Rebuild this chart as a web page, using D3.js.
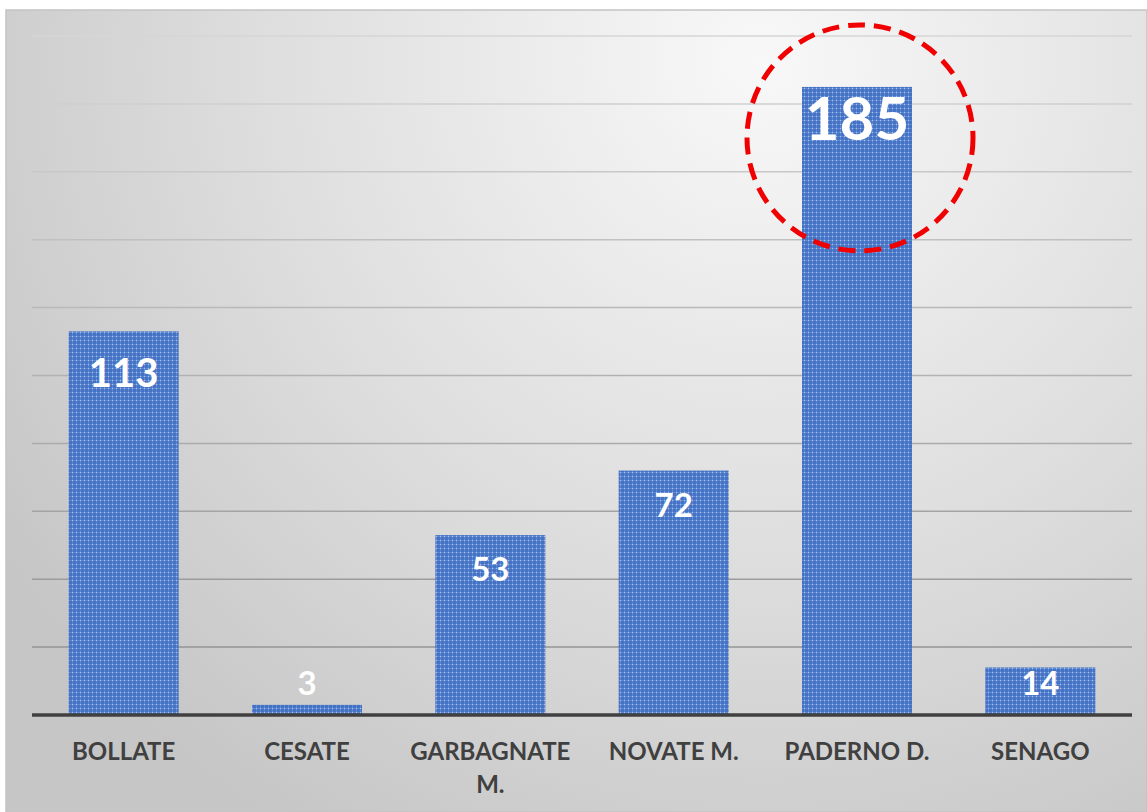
<!DOCTYPE html>
<html>
<head>
<meta charset="utf-8">
<script src="https://cdn.jsdelivr.net/npm/d3@7"></script>
<style>
  body { margin: 0; background: #ffffff; }
  svg { display: block; }
</style>
</head>
<body>
<div id="chart"></div>
<script>
//////////////////////////////////////////////////////////////////////////////
// Data

var comuni = ["BOLLATE", "CESATE", "GARBAGNATE M.", "NOVATE M.", "PADERNO D.", "SENAGO"];
var valori = [113, 3, 53, 72, 185, 14];
var gridTicks = [20, 40, 60, 80, 100, 120, 140, 160, 180, 200];
var evidenziato = "PADERNO D.";

// label styling (font size, baseline offset from bar top)
var labelSize = [40, 33, 33, 33, 60, 33];
var labelDy   = [56, -10, 46, 46, 53, 28];

//////////////////////////////////////////////////////////////////////////////

var width = 1147, height = 812;

var xScale = d3.scaleBand().domain(comuni).range([32, 1132])
    .paddingInner(0.4).paddingOuter(0.2);
var yScale = d3.scaleLinear().domain([0, 200]).range([715, 36]);

var svg = d3.select("#chart")
    .append("svg")
    .attr("width", width)
    .attr("height", height);

var defs = svg.append("defs");

var bg = defs.append("radialGradient")
    .attr("id", "bg")
    .attr("gradientUnits", "userSpaceOnUse")
    .attr("cx", 760).attr("cy", 60).attr("r", 900);
bg.append("stop").attr("offset", 0).attr("stop-color", "#f8f8f8");
bg.append("stop").attr("offset", 0.55).attr("stop-color", "#dedede");
bg.append("stop").attr("offset", 1).attr("stop-color", "#c6c6c6");

// fine woven texture on the bars
var pat = defs.append("pattern")
    .attr("id", "weave")
    .attr("patternUnits", "userSpaceOnUse")
    .attr("width", 4).attr("height", 4);
pat.append("rect").attr("width", 4).attr("height", 4).attr("fill", "#4472c4");
pat.append("rect").attr("width", 4).attr("height", 1).attr("fill", "#7196d8").attr("opacity", 0.6);
pat.append("rect").attr("width", 1).attr("height", 4).attr("fill", "#7196d8").attr("opacity", 0.6);
pat.append("rect").attr("width", 1).attr("height", 1).attr("fill", "#a9c0ea");

svg.append("rect")
    .attr("x", 6).attr("y", 10)
    .attr("width", width - 6).attr("height", height - 10)
    .attr("fill", "url(#bg)")
    .attr("stroke", "#c4c4c4")
    .attr("stroke-width", 1.5);

var gridColor = d3.scaleLinear().domain([36, 715]).range(["#d6d6d6", "#8e8e8e"]);

svg.append("g")
    .selectAll("line")
    .data(gridTicks)
    .enter()
    .append("line")
    .attr("x1", 32).attr("x2", 1132)
    .attr("y1", function(d) { return yScale(d); })
    .attr("y2", function(d) { return yScale(d); })
    .attr("stroke", function(d) { return gridColor(yScale(d)); })
    .attr("stroke-width", 1.5);

svg.append("g")
    .selectAll("rect")
    .data(valori)
    .enter()
    .append("rect")
    .attr("x", function(d, i) { return xScale(comuni[i]); })
    .attr("y", function(d) { return yScale(d); })
    .attr("width", xScale.bandwidth())
    .attr("height", function(d) { return yScale(0) - yScale(d); })
    .attr("fill", "url(#weave)");

// baseline
svg.append("line")
    .attr("x1", 32).attr("x2", 1132)
    .attr("y1", yScale(0)).attr("y2", yScale(0))
    .attr("stroke", "#404040")
    .attr("stroke-width", 3.5);

// value labels
svg.append("g")
    .selectAll("text")
    .data(valori)
    .enter()
    .append("text")
    .attr("x", function(d, i) { return xScale(comuni[i]) + xScale.bandwidth() / 2; })
    .attr("y", function(d, i) { return yScale(d) + labelDy[i]; })
    .attr("text-anchor", "middle")
    .attr("font-family", "Lato, 'Open Sans', sans-serif")
    .attr("font-weight", "bold")
    .attr("font-size", function(d, i) { return labelSize[i]; })
    .attr("fill", "#ffffff")
    .text(function(d) { return d; });

// category labels (wrapped like Excel)
var cat = svg.append("g")
    .selectAll("text")
    .data(comuni)
    .enter()
    .append("text")
    .attr("x", function(d) { return xScale(d) + xScale.bandwidth() / 2; })
    .attr("y", 760)
    .attr("text-anchor", "middle")
    .attr("font-family", "Lato, 'Open Sans', sans-serif")
    .attr("font-weight", "bold")
    .attr("font-size", 24)
    .attr("fill", "#404040");

cat.each(function(d) {
    var t = d3.select(this);
    var lines = d === "GARBAGNATE M." ? ["GARBAGNATE", "M."] : [d];
    lines.forEach(function(l, k) {
        t.append("tspan")
            .attr("x", xScale(d) + xScale.bandwidth() / 2)
            .attr("dy", k === 0 ? 0 : 33)
            .text(l);
    });
});

// red dashed highlight around the top bar
var hi = comuni.indexOf(evidenziato);
svg.append("circle")
    .attr("cx", xScale(evidenziato) + xScale.bandwidth() / 2 + 3)
    .attr("cy", yScale(valori[hi]) + 51)
    .attr("r", 113)
    .attr("fill", "none")
    .attr("stroke", "#f00000")
    .attr("stroke-width", 5)
    .attr("stroke-dasharray", "17 9");
</script>
</body>
</html>
